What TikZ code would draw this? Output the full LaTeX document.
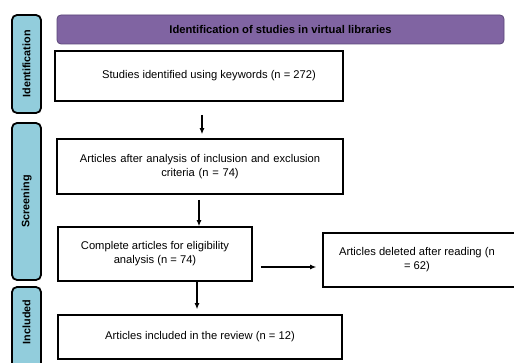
\documentclass[tikz,border=0pt]{standalone}
\usepackage{fontspec}
\setmainfont{Liberation Sans}
\usetikzlibrary{arrows.meta,calc}
\definecolor{sidebarblue}{HTML}{92CDDC}
\definecolor{bannerpurple}{HTML}{8064A2}
\definecolor{bannerline}{HTML}{5A4678}
\tikzset{
  sidebar/.style={draw=black,line width=1.8pt,rounded corners=5pt,fill=sidebarblue,inner sep=0pt},
  sidelabel/.style={rotate=90,font=\fontsize{10.8}{12}\selectfont\bfseries,text=black},
  banner/.style={draw=bannerline,line width=0.8pt,rounded corners=4pt,fill=bannerpurple,font=\fontsize{11.2}{12}\selectfont\bfseries,inner sep=0pt},
  flowbox/.style={draw=black,line width=1.6pt,fill=white,align=center,font=\fontsize{11.2}{13.5}\selectfont,inner sep=2pt},
  flowarrow/.style={line width=1.1pt,-{Latex[length=6pt,width=5pt]}}
}
\begin{document}
\begin{tikzpicture}[x=1pt,y=-1pt]
\useasboundingbox (0,0) rectangle (514,363);
\clip (0,0) rectangle (514,363);
\fill[white] (0,0) rectangle (514,363);
% sidebars
\node[sidebar,minimum width=29pt,minimum height=98pt] (sb1) at (26.5,64) {};
\node[sidelabel] (sl1) at (sb1.center) {Identification};
\node[sidebar,minimum width=29pt,minimum height=157pt] (sb2) at (26.5,201.5) {};
\node[sidelabel] (sl2) at (sb2.center) {Screening};
\node[sidebar,minimum width=29pt,minimum height=90pt] (sb3) at (26.5,332) {};
\node[sidelabel] (sl3) at (26.5,322) {Included};
% banner
\node[banner,minimum width=447pt,minimum height=29pt] (ban) at (280.5,29.5) {Identification of studies in virtual libraries};
% boxes
\node[flowbox,minimum width=288pt,minimum height=50pt] (b1) at (199,76) {\hspace*{20pt}Studies identified using keywords (n = 272)};
\node[flowbox,minimum width=286pt,minimum height=55pt,text width=270pt] (b2) at (200,166.5) {Articles after analysis of inclusion and exclusion\\criteria (n = 74)};
\node[flowbox,minimum width=194pt,minimum height=54pt] (b3) at (155,254) {\raisebox{8pt}{\begin{tabular}{@{}c@{}}Complete articles for eligibility\\analysis (n = 74)\end{tabular}}};
\node[flowbox,minimum width=194pt,minimum height=54pt] (b4) at (420,260) {\hspace*{-6pt}\raisebox{-3pt}{\begin{tabular}{@{}c@{}}Articles deleted after reading (n\\= 62)\end{tabular}}};
\node[flowbox,minimum width=284pt,minimum height=44pt] (b5) at (200,337) {Articles included in the review (n = 12)};
% arrows
\draw[flowarrow] ($(b1.south)+(3,13)$) -- ($(b2.north)+(2,-4)$);
\draw[flowarrow] ($(b2.south)+(-1,5)$) -- ($(b3.north)+(44,0)$);
\draw[flowarrow] ($(b3.east)+(8,13)$) -- ($(b4.west)+(-6,7)$);
\draw[flowarrow] ($(b3.south)+(42,0)$) -- ($(b5.north)+(-3,-5)$);
\end{tikzpicture}
\end{document}
